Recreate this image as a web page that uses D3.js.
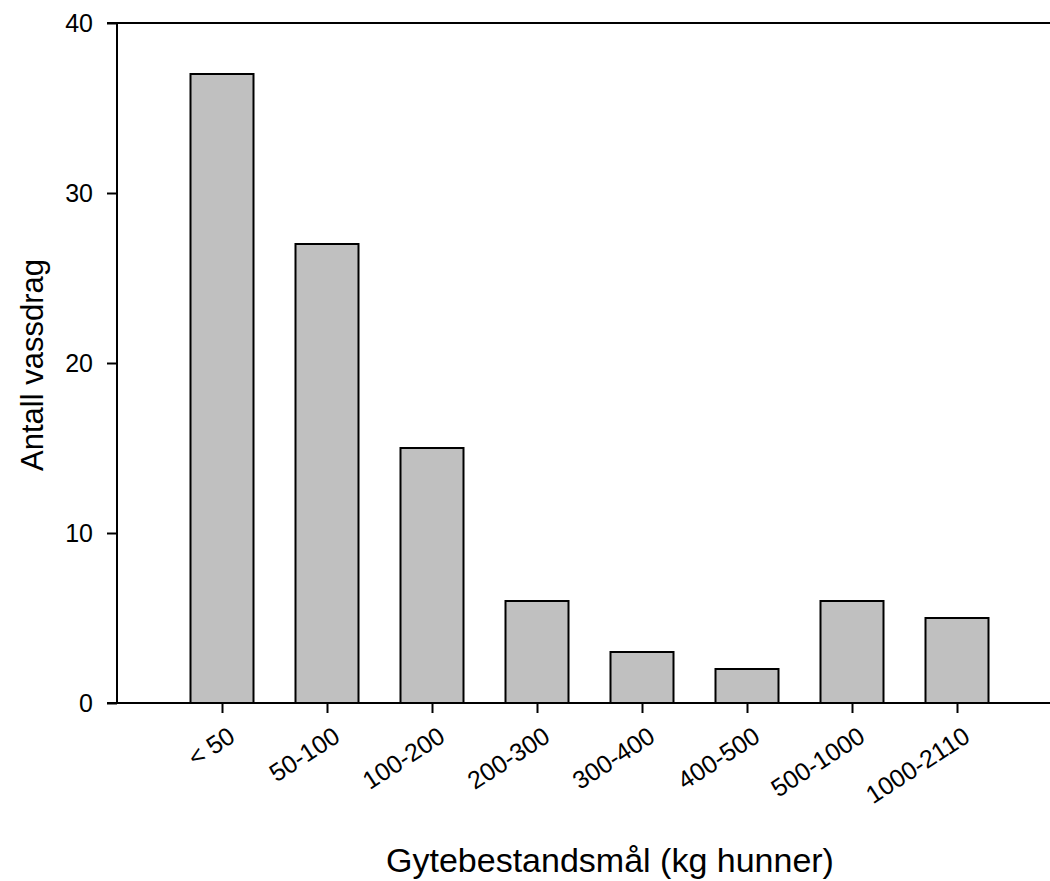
<!DOCTYPE html>
<html>
<head>
<meta charset="utf-8">
<script src="https://cdn.jsdelivr.net/npm/d3@7"></script>
<style>
  body { margin: 0; background: #fff; }
  text { font-family: "Liberation Sans", Arial, sans-serif; fill: #000; }
</style>
</head>
<body>
<svg id="chart" width="1050" height="881"></svg>
<script>
const categories = ['< 50', '50-100', '100-200', '200-300', '300-400', '400-500', '500-1000', '1000-2110'];
const counts = [37, 27, 15, 6, 3, 2, 6, 5];
const yTicks = [0, 10, 20, 30, 40];
const xTitle = 'Gytebestandsmål (kg hunner)';
const yTitle = 'Antall vassdrag';

const svg = d3.select('#chart');
const plotLeft = 117, plotTop = 23, plotBottom = 703, plotRight = 1062;

const xScale = d3.scalePoint().domain(categories).range([plotLeft, plotRight]).padding(1);
const yScale = d3.scaleLinear().domain([0, 40]).range([plotBottom, plotTop]);
const barWidth = xScale.step() * 0.6;

// bars
svg.append('g').selectAll('rect').data(categories).enter().append('rect')
  .attr('x', d => xScale(d) - barWidth / 2)
  .attr('y', (d, i) => yScale(counts[i]))
  .attr('width', barWidth)
  .attr('height', (d, i) => plotBottom - yScale(counts[i]))
  .attr('fill', '#c0c0c0')
  .attr('stroke', '#000')
  .attr('stroke-width', 2);

// top frame line
svg.append('line')
  .attr('x1', plotLeft - 10).attr('x2', plotRight)
  .attr('y1', plotTop).attr('y2', plotTop)
  .attr('stroke', '#000').attr('stroke-width', 2);

// y axis
const yAxis = d3.axisLeft(yScale).tickValues(yTicks).tickSize(10).tickPadding(14);
const yAxisGroup = svg.append('g').attr('transform', `translate(${plotLeft},0)`).call(yAxis);
yAxisGroup.select('.domain').attr('d', `M0,${plotTop}V${plotBottom}`);

// x axis
const xAxis = d3.axisBottom(xScale).tickSize(10).tickFormat('');
const xAxisGroup = svg.append('g').attr('transform', `translate(0,${plotBottom})`).call(xAxis);
xAxisGroup.select('.domain').attr('d', `M${plotLeft - 10},0H${plotRight}`);

svg.selectAll('.domain, .tick line').attr('stroke', '#000').attr('stroke-width', 2);
yAxisGroup.selectAll('.tick text').attr('font-size', '25px').attr('font-family', '"Liberation Sans", Arial, sans-serif');

// rotated x labels
svg.append('g').selectAll('text').data(categories).enter().append('text')
  .attr('transform', d => `translate(${xScale(d) + 10},${plotBottom + 30}) rotate(-33)`)
  .attr('text-anchor', 'end')
  .attr('dy', '0.35em')
  .attr('font-size', '25px')
  .text(d => d);

// axis titles
svg.append('text')
  .attr('x', 610)
  .attr('y', 872)
  .attr('text-anchor', 'middle')
  .attr('font-size', '34px')
  .text(xTitle);

svg.append('text')
  .attr('transform', 'translate(43,365) rotate(-90)')
  .attr('text-anchor', 'middle')
  .attr('font-size', '31px')
  .text(yTitle);
</script>
</body>
</html>
